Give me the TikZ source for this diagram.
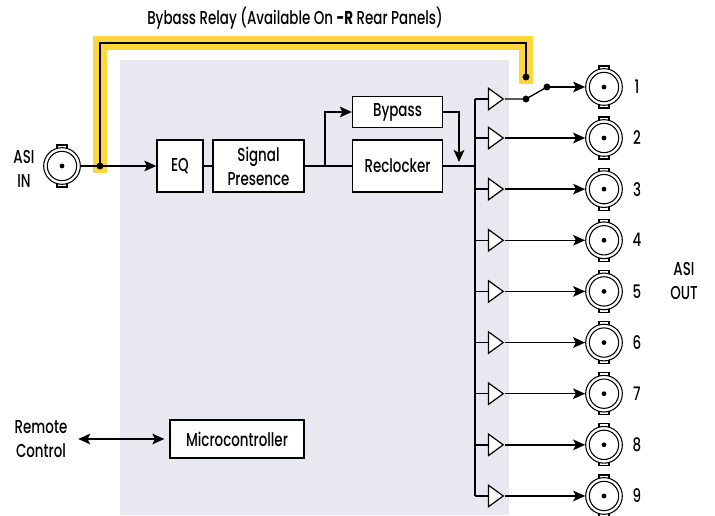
\documentclass[tikz,border=0pt]{standalone}
\usepackage{fontspec}
\setmainfont{Poppins}[FakeStretch=0.72, UprightFont=* Medium, BoldFont=* Bold]
\usetikzlibrary{arrows.meta,shapes.geometric}
\definecolor{panelgray}{RGB}{232,233,240}
\definecolor{relayyellow}{RGB}{255,214,64}
\tikzset{
  txt/.style={font=\fontsize{14}{18}\selectfont, align=center, inner sep=0pt},
  block/.style={txt, draw, fill=white, line width=1pt},
  link/.style={line width=1pt}, % plain connector
  arrow/.style={link, -{Stealth[length=9pt,width=8pt,inset=2pt]}},
  bnc/.style={circle, draw, line width=0.8pt, minimum size=27.5pt, inner sep=0pt,
    outer sep=0.4pt, fill=white,
    path picture={
      \draw[black, line width=0.8pt] (path picture bounding box.center) circle (11pt);
      \fill[black] (path picture bounding box.center) circle (1.8pt);}},
  tab/.style={draw, fill=white, line width=0.8pt, inner sep=0pt,
    minimum width=7.5pt, minimum height=31.5pt},
  dot/.style={circle, fill, inner sep=0pt, minimum size=5.2pt},
  buffer/.style={isosceles triangle, isosceles triangle stretches, draw, fill=white,
    line width=0.9pt, inner sep=0pt, minimum width=16pt, minimum height=11pt}
}
\begin{document}
\begin{tikzpicture}[x=0.75pt, y=-0.75pt]
  \useasboundingbox (0,0) rectangle (715,516);
  % Panel
  \fill[panelgray] (120,60) rectangle (509,515);

  % Relay
  \node[txt] (title) at (295,18) {Bybass Relay (Available On \textbf{-R} Rear Panels)};
  \coordinate (rtop) at (313,43);
  \coordinate (jin) at (100,166);
  \coordinate (jrel) at (526,77);
  \draw[relayyellow, line width=10pt, line cap=rect] (jin) |- (rtop) -| (jrel);
  \draw[link] (jin) |- (rtop) -| (jrel);

  % Input
  \node[txt] (asiin) at (24,169) {ASI\\IN};
  \node[tab] at (62,166) {};
  \node[bnc] (in) at (62,166) {};

  % Blocks
  \node[block, minimum width=34.5pt, minimum height=39pt] (eq) at (180,166) {EQ};
  \node[block, minimum width=68.25pt, minimum height=39pt] (sig) at (258.5,166) {Signal\\Presence};
  \node[block, minimum width=67.5pt, minimum height=23.25pt] (byp) at (397.5,112) {Bypass};
  \node[block, minimum width=67.5pt, minimum height=39pt] (rec) at (397.5,166) {Reclocker};
  \node[block, minimum width=100.5pt, minimum height=28.5pt] (mcu) at (237,439) {Microcontroller};

  % Connect
  \draw[arrow] (in) -- (eq);
  \draw[link] (eq) -- (sig);
  \draw[link] (sig) -- (rec);
  \coordinate (split) at (325,166);
  \draw[arrow] (split) |- (byp);
  \coordinate (merge) at (459,166);
  \draw[arrow] (byp.east) -| ([yshift=3pt]merge);
  \coordinate (bustop) at (475,99);
  \coordinate (busbot) at (475,496);
  \draw[link] (rec.east) -- (rec.east -| bustop);
  \draw[link] (bustop) -- (busbot);

  % Output 1 with relay switch
  \node[tab] at (604,87) {};
  \node[bnc] (o1) at (604,87) {};
  \node[txt] at (637,87) {1};
  \node[buffer] (b1) at (494,99) {};
  \draw[link] (bustop) -- (b1.west);
  \node[dot] (s1) at (526,99) {};
  \node[dot] (s2) at (547,87) {};
  \draw[link] (b1.apex) -- (s1.center) -- (s2.center);
  \draw[arrow] (s2.center) -- (o1);

  % Outputs 2..9
  \foreach \i in {2,...,9}{
    \pgfmathsetmacro{\y}{138+(\i-2)*51.14}
    \node[tab] at (604,\y) {};
    \node[bnc] (o\i) at (604,\y) {};
    \node[txt] at (637,\y) {\i};
    \node[buffer] (b\i) at (494,\y) {};
    \draw[link] (475,\y) -- (b\i.west);
    \draw[arrow] (b\i.apex) -- (o\i);
  }
  \node[txt] (asiout) at (684,281) {ASI\\OUT};

  % Remote control
  \node[txt] (remote) at (41,439) {Remote\\Control};
  \draw[link, {Stealth[length=9pt,width=8pt,inset=2pt]}-{Stealth[length=9pt,width=8pt,inset=2pt]},
    shorten <=8pt, shorten >=3.75pt] (remote.east) -- (mcu.west);

  % Dots on top
  \node[dot] at (jin) {};
  \node[dot] at (jrel) {};
\end{tikzpicture}
\end{document}
